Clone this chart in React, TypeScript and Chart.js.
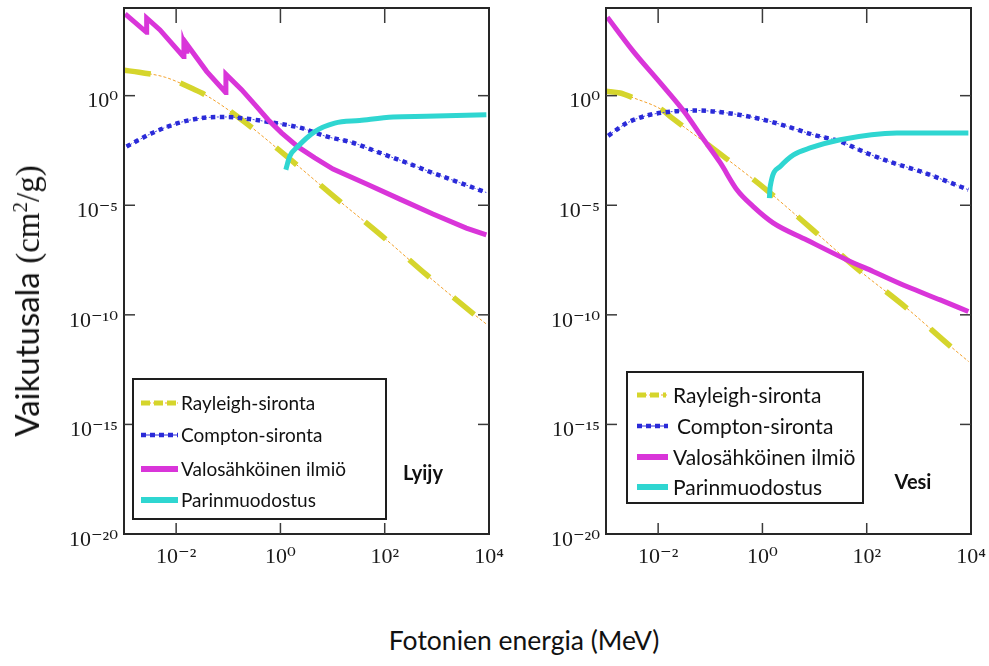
import React, { useEffect, useRef } from "react";
import { Chart, registerables } from "chart.js";

Chart.register(...registerables);

// ---------- data (energy in MeV, cross section in cm^2/g) ----------
const seriesNames = ["Rayleigh-sironta", "Compton-sironta", "Valosähköinen ilmiö", "Parinmuodostus"];
const xTickValues = [1e-2, 1, 1e2, 1e4];
const yTickValues = [1e-20, 1e-15, 1e-10, 1e-5, 1];

// Lyijy (lead)
const leadRayleighE = [1.0e-3, 1.95e-3, 6.2e-3, 2.04e-2, 3.55e-2, 0.186, 1.45, 11, 87, 630, 4900, 9300];
const leadRayleighS = [14.5, 11.7, 6.9, 2.1, 1.12, 7.6e-2, 1.4e-3, 2.35e-5, 4.1e-7, 6.8e-9, 1.17e-10, 3.5e-11];
const leadComptonE = [1.12e-3, 3.6e-3, 1.17e-2, 3.8e-2, 9.3e-2, 0.224, 0.71, 2.34, 7.6, 24.5, 79, 263, 830, 2750, 8900];
const leadComptonS = [4.8e-3, 2.04e-2, 5.9e-2, 0.1, 0.107, 8.9e-2, 5.9e-2, 3.5e-2, 1.38e-2, 7.1e-3, 2.5e-3, 8.7e-4, 3.0e-4, 1.07e-4, 3.8e-5];
const leadPhotoE = [1.05e-3, 2.7e-3, 2.72e-3, 4.9e-3, 1.37e-2, 1.41e-2, 1.58e-2, 1.6e-2, 3.84e-2, 8.9e-2, 9.0e-2, 0.18, 0.324, 0.58, 1.05, 2.18, 4.56, 10.2, 45, 195, 840, 3670, 8900];
const leadPhotoS = [5400, 780, 3500, 1000, 62, 230, 105, 224, 12.9, 1.4, 9.5, 1.88, 0.39, 8.0e-2, 2.0e-2, 4.6e-3, 1.44e-3, 4.5e-4, 9.3e-5, 1.9e-5, 4.0e-6, 9.1e-7, 4.5e-7];
const leadPairE = [1.27, 1.51, 2.18, 4.57, 11, 33, 145, 630, 8900];
const leadPairS = [4.2e-4, 1.7e-3, 4.9e-3, 2.3e-2, 5.6e-2, 7.4e-2, 0.107, 0.115, 0.135];

// Vesi (water)
const waterRayleighE = [1.0e-3, 1.86e-3, 3.34e-3, 1.17e-2, 1.87e-2, 0.155, 1.22, 9.5, 70, 560, 4130, 9000];
const waterRayleighS = [1.6, 1.32, 0.8, 0.23, 9.5e-2, 2.2e-3, 4.8e-5, 7.1e-7, 1.12e-8, 2.2e-10, 3.5e-12, 7.4e-13];
const waterComptonE = [1.1e-3, 2.5e-3, 6.0e-3, 1.95e-2, 5.5e-2, 0.21, 0.9, 2.95, 9.3, 31, 100, 324, 1070, 3470, 8900];
const waterComptonS = [1.48e-2, 5.6e-2, 0.123, 0.19, 0.21, 0.162, 8.7e-2, 4.0e-2, 1.66e-2, 8.1e-3, 2.4e-3, 8.5e-4, 3.5e-4, 1.23e-4, 5.1e-5];
const waterPhotoE = [1.06e-3, 3.34e-3, 1.1e-2, 3.3e-2, 6.4e-2, 0.155, 0.324, 0.66, 1.6, 7.1, 42, 133, 590, 2570, 8900];
const waterPhotoS = [3800, 105, 3.8, 0.162, 1.66e-2, 8.7e-4, 5.1e-5, 8.9e-6, 1.58e-6, 2.6e-7, 3.2e-8, 9.5e-9, 1.95e-9, 4.8e-10, 1.41e-10];
const waterPairE = [1.36, 1.41, 2.19, 3.94, 8.2, 31, 380, 8900];
const waterPairS = [2.1e-5, 7.2e-5, 5.9e-4, 2.0e-3, 4.1e-3, 9.8e-3, 2.0e-2, 2.0e-2];

// ---------- styling ----------
const C_YELLOW = "#d5d52c";
const C_ORANGE = "#f3a12a";
const C_BLUE = "#2a2ad8";
const C_MAGENTA = "#d935d9";
const C_CYAN = "#2fd6d1";

const SUP: Record<string, string> = {
  "-": "\u207B", "0": "\u2070", "1": "\u00B9", "2": "\u00B2", "3": "\u00B3",
  "4": "\u2074", "5": "\u2075", "6": "\u2076", "7": "\u2077", "8": "\u2078", "9": "\u2079",
};
const fmtPow = (v: number) =>
  "10" + String(Math.round(Math.log10(v))).split("").map((c) => SUP[c] ?? c).join("");

const pts = (xs: number[], ys: number[]) => xs.map((x, i) => ({ x, y: ys[i] }));

type Panel = {
  rE: number[]; rS: number[]; cE: number[]; cS: number[];
  pE: number[]; pS: number[]; qE: number[]; qS: number[];
  photoSharp: boolean;
  material: string;
  yWidth: number; padRight: number;
  legend: {
    box: [number, number, number, number];
    rows: number[]; sx0: number; sx1: number; tx: number[]; font: number;
    mat: [number, number]; matFont: number;
  };
};

const decoPlugin = {
  id: "deco",
  afterDatasetsDraw(chart: any, _args: any, opts: any) {
    const { ctx, chartArea: a, scales } = chart;
    ctx.save();
    // frame
    ctx.strokeStyle = "#262626";
    ctx.lineWidth = 2;
    ctx.setLineDash([]);
    ctx.strokeRect(a.left, a.top, a.right - a.left, a.bottom - a.top);
    // inner ticks
    ctx.lineWidth = 1.5;
    ctx.strokeStyle = "#3a3a3a";
    const line = (x0: number, y0: number, x1: number, y1: number) => {
      ctx.beginPath(); ctx.moveTo(x0, y0); ctx.lineTo(x1, y1); ctx.stroke();
    };
    for (const t of scales.x.ticks) {
      const px = scales.x.getPixelForValue(t.value);
      if (px <= a.left + 2 || px >= a.right - 2) continue;
      line(px, a.bottom, px, a.bottom - 11);
      line(px, a.top, px, a.top + 15);
    }
    for (const t of scales.y.ticks) {
      const py = scales.y.getPixelForValue(t.value);
      if (py <= a.top + 2 || py >= a.bottom - 2) continue;
      line(a.left, py, a.left + 11, py);
      line(a.right, py, a.right - 11, py);
    }
    // legend box
    const L = opts.legend;
    const [bx, by, bw, bh] = L.box;
    ctx.fillStyle = "#ffffff";
    ctx.fillRect(bx, by, bw, bh);
    ctx.strokeStyle = "#1e1e1e";
    ctx.lineWidth = 2;
    ctx.strokeRect(bx, by, bw, bh);
    ctx.font = `${L.font}px Lato, "Open Sans", sans-serif`;
    ctx.textBaseline = "middle";
    ctx.textAlign = "left";
    L.rows.forEach((ry: number, i: number) => {
      ctx.save();
      ctx.lineCap = "butt";
      if (i === 0) {
        ctx.strokeStyle = C_ORANGE; ctx.lineWidth = 1; ctx.setLineDash([2, 2]);
        line(L.sx0, ry, L.sx1, ry);
        ctx.strokeStyle = C_YELLOW; ctx.lineWidth = 5; ctx.setLineDash([9, 4]);
        line(L.sx0, ry, L.sx1 - 2, ry);
      } else if (i === 1) {
        ctx.strokeStyle = C_BLUE; ctx.lineWidth = 1; ctx.setLineDash([]);
        line(L.sx0, ry, L.sx1, ry);
        ctx.lineWidth = 4.5; ctx.setLineDash([5, 4]);
        line(L.sx0, ry, L.sx1, ry);
      } else {
        ctx.strokeStyle = i === 2 ? C_MAGENTA : C_CYAN; ctx.lineWidth = 6; ctx.setLineDash([]);
        line(L.sx0, ry, L.sx1, ry);
      }
      ctx.restore();
      ctx.fillStyle = "#111111";
      ctx.fillText(seriesNames[i], L.tx[i], ry + 1);
    });
    // material label
    ctx.font = `bold ${L.matFont}px Lato, "Open Sans", sans-serif`;
    ctx.textAlign = "center";
    ctx.fillStyle = "#111111";
    ctx.fillText(opts.material, L.mat[0], L.mat[1]);
    ctx.restore();
  },
};

const noPad = (s: any) => {
  s.paddingLeft = 0; s.paddingRight = 0; s.paddingTop = 0; s.paddingBottom = 0;
};

function buildConfig(p: Panel): any {
  const common = { pointRadius: 0, fill: false, borderCapStyle: "butt", borderJoinStyle: "round" };
  const smooth = { cubicInterpolationMode: "monotone" };
  const tickFont = { family: '"Liberation Serif", "DejaVu Serif", serif', size: 22 };
  return {
    type: "line",
    data: {
      datasets: [
        { ...common, ...smooth, data: pts(p.rE, p.rS), borderColor: C_ORANGE, borderWidth: 1, borderDash: [3, 2], order: 6 },
        { ...common, ...smooth, data: pts(p.rE, p.rS), borderColor: C_YELLOW, borderWidth: 5.5, borderDash: [27, 31], order: 5 },
        { ...common, ...smooth, data: pts(p.cE, p.cS), borderColor: "#4a4ae6", borderWidth: 1, borderDash: [2, 2], order: 4 },
        { ...common, ...smooth, data: pts(p.cE, p.cS), borderColor: C_BLUE, borderWidth: 4.5, borderDash: [4.5, 4.5], order: 3 },
        p.photoSharp
          ? { ...common, data: pts(p.pE, p.pS), borderColor: C_MAGENTA, borderWidth: 5, tension: 0, borderJoinStyle: "miter", order: 2 }
          : { ...common, ...smooth, data: pts(p.pE, p.pS), borderColor: C_MAGENTA, borderWidth: 5, order: 2 },
        { ...common, ...smooth, data: pts(p.qE, p.qS), borderColor: C_CYAN, borderWidth: 5, order: 1 },
      ],
    },
    options: {
      responsive: false,
      maintainAspectRatio: false,
      animation: false,
      devicePixelRatio: 1,
      events: [],
      layout: { padding: { left: 0, right: p.padRight, top: 8, bottom: 0 } },
      plugins: {
        legend: { display: false },
        tooltip: { enabled: false },
        deco: { legend: p.legend, material: p.material },
      },
      scales: {
        x: {
          type: "logarithmic",
          min: 1e-3,
          max: 1e4,
          position: "bottom",
          grid: { display: false, drawTicks: false },
          border: { display: false },
          afterBuildTicks: (s: any) => { s.ticks = xTickValues.map((v) => ({ value: v })); },
          afterFit: (s: any) => { s.height = 66; noPad(s); },
          ticks: {
            callback: (v: any) => fmtPow(Number(v)),
            font: tickFont, color: "#1a1a1a", padding: 10, maxRotation: 0, minRotation: 0, autoSkip: false,
          },
        },
        y: {
          type: "logarithmic",
          min: 1e-20,
          max: 1e4,
          position: "left",
          grid: { display: false, drawTicks: false },
          border: { display: false },
          afterBuildTicks: (s: any) => { s.ticks = yTickValues.map((v) => ({ value: v })); },
          afterFit: (s: any) => { s.width = p.yWidth; noPad(s); },
          ticks: {
            callback: (v: any) => fmtPow(Number(v)),
            font: tickFont, color: "#1a1a1a", padding: 6, labelOffset: 6, autoSkip: false,
          },
        },
      },
    },
    plugins: [decoPlugin],
  };
}

const leadPanel: Panel = {
  rE: leadRayleighE, rS: leadRayleighS, cE: leadComptonE, cS: leadComptonS,
  pE: leadPhotoE, pS: leadPhotoS, qE: leadPairE, qS: leadPairS,
  photoSharp: true,
  material: "Lyijy",
  yWidth: 124, padRight: 51,
  legend: {
    box: [133, 379, 253, 140],
    rows: [403, 435, 469, 500], sx0: 141, sx1: 178, tx: [181, 181, 181, 181], font: 19,
    mat: [423, 474], matFont: 20,
  },
};

const waterPanel: Panel = {
  rE: waterRayleighE, rS: waterRayleighS, cE: waterComptonE, cS: waterComptonS,
  pE: waterPhotoE, pS: waterPhotoS, qE: waterPairE, qS: waterPairS,
  photoSharp: false,
  material: "Vesi",
  yWidth: 66, padRight: 18,
  legend: {
    box: [87, 372, 236, 131],
    rows: [395, 426, 457, 487], sx0: 97, sx1: 128, tx: [133, 137, 133, 133], font: 21,
    mat: [373, 483], matFont: 20,
  },
};

export default function App() {
  const refA = useRef<HTMLCanvasElement>(null);
  const refB = useRef<HTMLCanvasElement>(null);
  useEffect(() => {
    const a = new Chart(refA.current as HTMLCanvasElement, buildConfig(leadPanel));
    const b = new Chart(refB.current as HTMLCanvasElement, buildConfig(waterPanel));
    return () => { a.destroy(); b.destroy(); };
  }, []);
  return (
    <div style={{ position: "absolute", left: 0, top: 0, width: 989, height: 666, background: "#fff", overflow: "hidden" }}>
      <canvas ref={refA} width={540} height={600} style={{ position: "absolute", left: 0, top: 0, width: 540, height: 600 }} />
      <canvas ref={refB} width={449} height={600} style={{ position: "absolute", left: 540, top: 0, width: 449, height: 600 }} />
      <div
        style={{
          position: "absolute", left: 324, top: 623, width: 400, textAlign: "center",
          fontFamily: 'Lato, "Open Sans", sans-serif', fontSize: 26.5, color: "#111", lineHeight: "34px", whiteSpace: "nowrap",
        }}
      >
        Fotonien energia (MeV)
      </div>
      <div
        style={{
          position: "absolute", left: 27, top: 301, transform: "translate(-50%, -50%) rotate(-90deg)",
          whiteSpace: "nowrap", color: "#111", lineHeight: "40px",
        }}
      >
        <span style={{ fontFamily: 'Lato, "Open Sans", sans-serif', fontSize: 33 }}>Vaikutusala </span>
        <span style={{ fontFamily: '"Liberation Serif", "DejaVu Serif", serif', fontSize: 33 }}>
          (cm<sup style={{ fontSize: 21 }}>2</sup>/g)
        </span>
      </div>
    </div>
  );
}
